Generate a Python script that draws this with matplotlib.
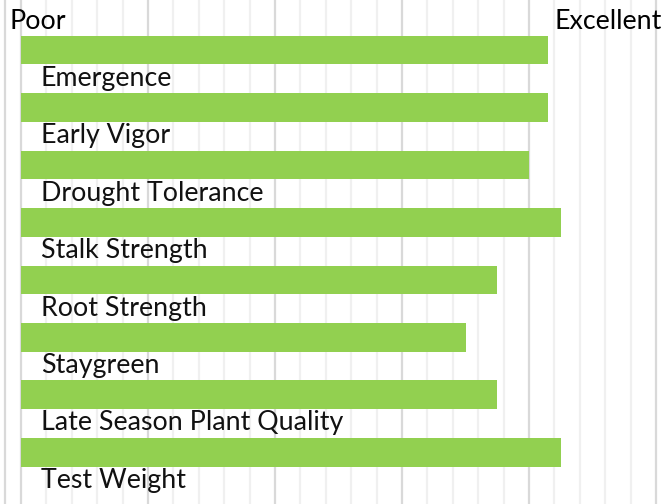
import matplotlib
matplotlib.use("Agg")
import matplotlib.pyplot as plt
import numpy as np

# ratings, 0 = Poor, 5 = Excellent
traits = ["Emergence", "Early Vigor", "Drought Tolerance", "Stalk Strength",
          "Root Strength", "Staygreen", "Late Season Plant Quality", "Test Weight"]
scores = [4.15, 4.15, 4.0, 4.25, 3.75, 3.5, 3.75, 4.25]

plt.rcParams['font.family'] = ['Lato', 'DejaVu Sans']

fig = plt.figure(figsize=(6.65, 5.04), dpi=100)
ax = fig.add_axes([0, 0, 1, 1])

y = np.arange(len(traits))

# gridlines
for gx in np.arange(0, 5.01, 0.2):
    major = abs(gx - round(gx)) < 1e-6
    ax.axvline(gx, color="#d9d9d9" if major else "#f0f0f0", lw=1.6, zorder=0)
ax.axvline(-0.126, color="#d9d9d9", lw=1.6, zorder=0)

ax.barh(y, scores, height=0.5, color="#92d050", zorder=2)

for i, t in enumerate(traits):
    ax.text(0.155, i + 0.49, t, fontsize=19.3, va="center", ha="left", color="#111111")

ax.text(-0.087, -0.49, "Poor", fontsize=19.3, va="center", ha="left", color="#000000")
ax.text(5.047, -0.49, "Excellent", fontsize=19.3, va="center", ha="right", color="#000000")

ax.set_xlim(-21 / 127, 644 / 127)
ax.set_ylim(7.9, -0.87)
ax.axis("off")

fig.savefig("out.png", dpi=100)
